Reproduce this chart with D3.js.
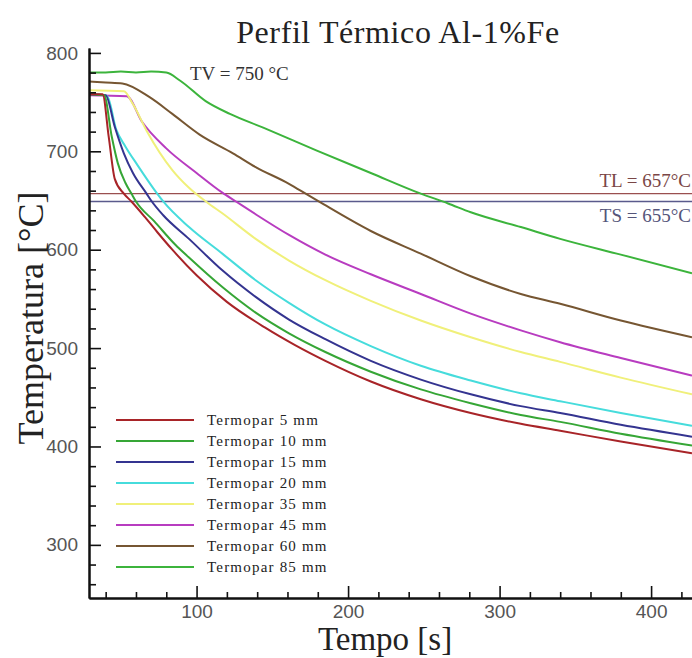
<!DOCTYPE html>
<html>
<head>
<meta charset="utf-8">
<script src="https://cdn.jsdelivr.net/npm/d3@7"></script>
<style>
  body { margin: 0; background: #fff; }
  svg { display: block; }
</style>
</head>
<body>
<div id="chart"></div>
<script>
  // legend names
  const series = ['Termopar 5 mm', 'Termopar 10 mm', 'Termopar 15 mm', 'Termopar 20 mm',
    'Termopar 35 mm', 'Termopar 45 mm', 'Termopar 60 mm', 'Termopar 85 mm'];
  const colors = ['#a82428', '#36a636', '#343490', '#46dcdc', '#f0f07a', '#b83cc0', '#765632', '#3cb43c'];

  // [tempo (s), temperatura (°C)]
  const t5 = [[29, 758], [38, 758], [42, 715], [46, 672], [52, 657], [57, 649], [66, 633], [74, 618], [84, 600],
    [100, 574], [120, 547], [145, 521], [165, 503], [185, 487], [215, 466], [248, 448], [281, 434], [314, 423],
    [340, 416], [380, 405], [427, 393]];
  const t10 = [[29, 758], [39, 757], [44, 715], [48, 688], [53, 668], [57, 657], [60, 649], [72, 629], [86, 605],
    [95, 592], [117, 562], [139, 536], [161, 515], [185, 496], [215, 476], [248, 458], [281, 444], [314, 432],
    [340, 425], [380, 413], [427, 401]];
  const t15 = [[29, 758], [40, 757], [46, 725], [52, 698], [58, 678], [67, 657], [70, 650], [78, 635], [95, 611],
    [117, 579], [139, 552], [161, 529], [185, 509], [215, 487], [248, 468], [281, 453], [314, 441], [340, 434],
    [380, 422], [427, 410]];
  const t20 = [[29, 759], [41, 756], [47, 722], [53, 705], [61, 686], [74, 657], [78, 649], [95, 623], [117, 596],
    [139, 569], [161, 546], [185, 524], [215, 502], [248, 482], [281, 467], [314, 454], [340, 446], [380, 434],
    [427, 421]];
  const t35 = [[29, 762], [52, 761], [58, 748], [67, 721], [84, 681], [95, 663], [107, 648], [117, 637], [139, 611],
    [161, 589], [185, 569], [215, 548], [248, 528], [281, 511], [314, 496], [340, 486], [380, 470], [427, 453]];
  const t45 = [[29, 757], [54, 756], [64, 730], [80, 703], [100, 678], [117, 658], [126, 649], [139, 636], [161, 615],
    [185, 595], [215, 575], [248, 555], [281, 535], [314, 518], [340, 506], [380, 490], [427, 472]];
  const t60 = [[29, 771], [40, 770], [51, 769], [69, 755], [84, 738], [102, 717], [124, 698], [139, 684], [161, 667],
    [172, 657], [184, 646], [215, 619], [248, 596], [281, 573], [314, 555], [340, 545], [380, 528], [427, 511]];
  const t85 = [[29, 780], [40, 780], [50, 781], [60, 780], [70, 781], [80, 780], [89, 772], [106, 751], [122, 738],
    [144, 724], [179, 701], [215, 678], [248, 657], [266, 647], [281, 638], [314, 623], [340, 611], [380, 595],
    [427, 576]];
  const curves = [t5, t10, t15, t20, t35, t45, t60, t85];

  const xMajor = [100, 200, 300, 400];
  const yMajor = [300, 400, 500, 600, 700, 800];
  const tlValue = 657;   // liquidus line
  const tsValue = 649;   // solidus line (drawn where the picture has it)

  var width = 692;
  var height = 658;

  var svg = d3.select('#chart').append('svg')
    .attr('width', width)
    .attr('height', height);

  var x = d3.scaleLinear().domain([29, 427]).range([89, 692]);
  var y = d3.scaleLinear().domain([246, 805]).range([598, 48]);

  svg.append('defs').append('clipPath').attr('id', 'plot')
    .append('rect').attr('x', 89).attr('y', 40).attr('width', 603).attr('height', 558);

  /* horizontal TL / TS lines */
  svg.append('line')
    .attr('x1', x.range()[0]).attr('x2', x.range()[1])
    .attr('y1', y(tlValue)).attr('y2', y(tlValue))
    .attr('stroke', '#9a4f4f').attr('stroke-width', 1.3);
  svg.append('line')
    .attr('x1', x.range()[0]).attr('x2', x.range()[1])
    .attr('y1', y(tsValue)).attr('y2', y(tsValue))
    .attr('stroke', '#5a5a8c').attr('stroke-width', 1.3);

  var line = d3.line()
    .x(function (d) { return x(d[0]); })
    .y(function (d) { return y(d[1]); })
    .curve(d3.curveMonotoneX);

  var plot = svg.append('g').attr('clip-path', 'url(#plot)');
  // draw the slowest curves first so the fast ones sit on top
  for (var i = curves.length - 1; i >= 0; i--) {
    plot.append('path')
      .datum(curves[i])
      .attr('fill', 'none')
      .attr('stroke', colors[i])
      .attr('stroke-width', 2)
      .attr('stroke-linejoin', 'round')
      .attr('d', line);
  }

  /* axes */
  function minorTicks(scale, major) {
    var d = scale.domain();
    return d3.range(Math.ceil(d[0] / 20) * 20, d[1] + 1, 20).filter(function (v) {
      return major.indexOf(v) < 0;
    });
  }

  svg.append('g').attr('transform', 'translate(89,0)')
    .call(d3.axisLeft(y).tickValues(yMajor).tickSize(-12).tickSizeOuter(0).tickPadding(11));
  svg.append('g').attr('transform', 'translate(89,0)')
    .call(d3.axisLeft(y).tickValues(minorTicks(y, yMajor)).tickSize(-7).tickSizeOuter(0).tickFormat(''));

  svg.append('g').attr('transform', 'translate(0,598)')
    .call(d3.axisBottom(x).tickValues(xMajor).tickSize(-12).tickSizeOuter(0).tickPadding(7));
  svg.append('g').attr('transform', 'translate(0,598)')
    .call(d3.axisBottom(x).tickValues(minorTicks(x, xMajor)).tickSize(-6).tickSizeOuter(0).tickFormat(''));

  svg.selectAll('.domain').attr('stroke', '#111').attr('stroke-width', 2);
  svg.selectAll('.tick line').attr('stroke', '#111').attr('stroke-width', 1.6);
  svg.selectAll('.tick text')
    .attr('fill', '#555')
    .style('font-family', '"Liberation Sans", Arial, sans-serif')
    .style('font-size', '19px');

  /* texts */
  var serif = '"Liberation Serif", "Times New Roman", serif';

  svg.append('text')
    .attr('x', 398).attr('y', 43)
    .attr('text-anchor', 'middle')
    .style('font-family', serif).style('font-size', '32px').style('letter-spacing', '0.6px')
    .attr('fill', '#222')
    .text('Perfil Térmico Al-1%Fe');

  svg.append('text')
    .attr('x', 385).attr('y', 650)
    .attr('text-anchor', 'middle')
    .style('font-family', serif).style('font-size', '33px')
    .attr('fill', '#222')
    .text('Tempo [s]');

  svg.append('text')
    .attr('transform', 'translate(43,318) rotate(-90)')
    .attr('text-anchor', 'middle')
    .style('font-family', serif).style('font-size', '36px')
    .attr('fill', '#222')
    .text('Temperatura [°C]');

  svg.append('text')
    .attr('x', 190).attr('y', 80)
    .style('font-family', serif).style('font-size', '19px')
    .attr('fill', '#333')
    .text('TV = 750 °C');

  svg.append('text')
    .attr('x', 691).attr('y', 187)
    .attr('text-anchor', 'end')
    .style('font-family', serif).style('font-size', '19px')
    .attr('fill', '#7a4646')
    .text('TL = 657°C');

  svg.append('text')
    .attr('x', 691).attr('y', 222)
    .attr('text-anchor', 'end')
    .style('font-family', serif).style('font-size', '19px')
    .attr('fill', '#55557a')
    .text('TS = 655°C');

  /* legend */
  var legend = svg.append('g').attr('transform', 'translate(116,420)');
  series.forEach(function (name, k) {
    var row = legend.append('g').attr('transform', 'translate(0,' + (k * 21) + ')');
    row.append('line')
      .attr('x1', 0).attr('x2', 78)
      .attr('stroke', colors[k]).attr('stroke-width', 2);
    row.append('text')
      .attr('x', 91).attr('y', 5)
      .style('font-family', serif).style('font-size', '15px').style('letter-spacing', '1.2px')
      .attr('fill', '#222')
      .text(name);
  });
</script>
</body>
</html>
